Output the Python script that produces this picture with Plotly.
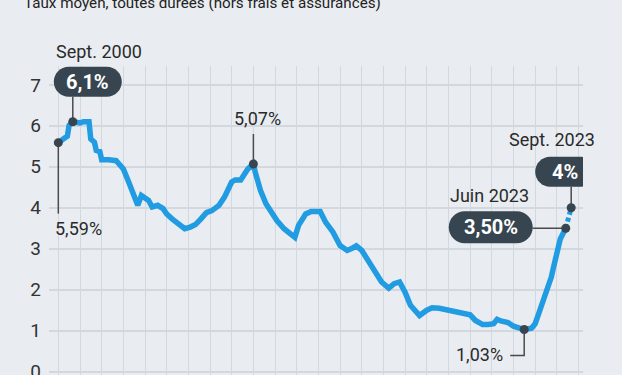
import plotly.graph_objects as go

# ---------------- data ----------------
months = [
    "2000-01", "2000-04", "2000-06", "2000-07", "2000-09", "2001-01", "2001-03", "2001-06",
    "2001-07", "2001-09", "2001-10", "2001-12", "2002-01", "2002-05", "2002-09", "2002-11",
    "2003-01", "2003-04", "2003-06", "2003-08", "2003-09", "2003-11", "2004-01", "2004-03",
    "2004-05", "2004-08", "2004-11", "2005-01", "2005-04", "2005-07", "2005-11", "2006-02",
    "2006-05", "2006-08", "2006-11", "2007-02", "2007-06", "2007-09", "2008-01", "2008-03",
    "2008-06", "2008-10", "2009-01", "2009-02", "2009-05", "2009-08", "2009-12", "2010-02",
    "2010-06", "2010-10", "2010-12", "2011-02", "2011-06", "2011-09", "2011-12", "2012-02",
    "2012-05", "2012-09", "2013-01", "2013-05", "2013-08", "2013-10", "2014-01", "2014-06",
    "2014-12", "2015-04", "2015-07", "2015-10", "2016-01", "2016-04", "2016-09", "2017-01",
    "2017-04", "2017-08", "2018-01", "2018-05", "2018-08", "2019-01", "2019-04", "2019-08",
    "2019-11", "2020-02", "2020-04", "2020-06", "2020-10", "2021-01", "2021-04", "2021-07",
    "2021-11", "2022-01", "2022-03", "2022-05", "2022-08", "2022-10", "2022-11", "2023-01",
    "2023-03", "2023-06",
]
rates = [
    5.59, 5.71, 5.75, 6.01, 6.10, 6.07, 6.10, 6.10,
    5.68, 5.60, 5.40, 5.37, 5.17, 5.17, 5.15, 5.05,
    4.95, 4.63, 4.38, 4.14, 4.06, 4.30, 4.22, 4.18,
    4.02, 4.06, 3.98, 3.85, 3.73, 3.63, 3.49, 3.53,
    3.59, 3.73, 3.88, 3.93, 4.06, 4.26, 4.63, 4.68,
    4.68, 4.95, 5.07, 4.87, 4.42, 4.10, 3.81, 3.69,
    3.49, 3.32, 3.28, 3.57, 3.85, 3.91, 3.90, 3.91,
    3.65, 3.41, 3.08, 2.96, 3.02, 3.07, 2.96, 2.59,
    2.19, 2.04, 2.15, 2.19, 1.94, 1.62, 1.37, 1.50,
    1.56, 1.55, 1.51, 1.47, 1.46, 1.39, 1.25, 1.15,
    1.15, 1.17, 1.28, 1.24, 1.20, 1.11, 1.07, 1.03,
    1.06, 1.17, 1.41, 1.66, 2.02, 2.31, 2.51, 2.92,
    3.24, 3.50,
]
proj_months = ["2023-06", "2023-09"]
proj_rates = [3.50, 4.00]

y_ticks = [0, 1, 2, 3, 4, 5, 6, 7]
title_text = "Taux moyen, toutes durées (hors frais et assurances)"

# highlighted points: (month, rate)
hl_months = ["2000-01", "2000-09", "2009-01", "2021-07", "2023-06", "2023-09"]
hl_rates = [5.59, 6.10, 5.07, 1.03, 3.50, 4.00]

# ---------------- style ----------------
BG = "#e9edf1"
GRID = "#d3d8de"
BLUE = "#219be1"
DARK = "#36454f"
TXT = "#2a2a2a"
FONT = "Roboto"

def d(m):
    return m + "-01"

fig = go.Figure()
fig.add_trace(go.Scatter(x=[d(m) for m in months], y=rates, mode="lines",
                         line=dict(color=BLUE, width=5.5), hoverinfo="skip"))
fig.add_trace(go.Scatter(x=[d(m) for m in proj_months], y=proj_rates, mode="lines",
                         line=dict(color=BLUE, width=5, dash="4px,3px"), hoverinfo="skip"))
fig.add_trace(go.Scatter(x=[d(m) for m in hl_months], y=hl_rates, mode="markers",
                         marker=dict(color=DARK, size=9), cliponaxis=False, hoverinfo="skip"))


def pill(cx, cy, w, h):
    r = h / 2.0
    k = 0.5523 * r
    x0, x1 = cx - w / 2.0, cx + w / 2.0
    y0, y1 = cy - h / 2.0, cy + h / 2.0
    return (f"M {x0+r},{y0} L {x1-r},{y0} "
            f"C {x1-r+k},{y0} {x1},{y0+r-k} {x1},{y0+r} "
            f"C {x1},{y1-r+k} {x1-r+k},{y1} {x1-r},{y1} "
            f"L {x0+r},{y1} "
            f"C {x0+r-k},{y1} {x0},{y1-r+k} {x0},{y1-r} "
            f"C {x0},{y0+r-k} {x0+r-k},{y0} {x0+r},{y0} Z")

shapes = []
annotations = []

def anchor_path(i, path, fill=None, layer="above"):
    s = dict(type="path", xref="x", yref="y", xsizemode="pixel", ysizemode="pixel",
             xanchor=d(hl_months[i]), yanchor=hl_rates[i], path=path, layer=layer)
    if fill:
        s.update(fillcolor=fill, line=dict(width=0))
    else:
        s.update(line=dict(color="#4a4a4a", width=1.5))
    shapes.append(s)

def text_at(i, txt, dx, dy, size=18, color=TXT, bold=False):
    annotations.append(dict(
        x=d(hl_months[i]), y=hl_rates[i], xref="x", yref="y", showarrow=False,
        text=f"<b>{txt}</b>" if bold else txt, xshift=dx, yshift=dy,
        xanchor="center", yanchor="middle",
        font=dict(family=FONT, size=size, color=color)))

# 5,59% (start)
anchor_path(0, "M 0,0 L 0,-71", layer="between")
text_at(0, "5,59%", 20, -86)
# Sept. 2000 6,1%
anchor_path(1, "M 0,0 L 0,25", layer="between")
anchor_path(1, pill(15, 40, 68, 30), fill=DARK)
text_at(1, "6,1%", 15, 40, size=20, color="white", bold=True)
text_at(1, "Sept. 2000", 26, 70)
# 5,07%
anchor_path(2, "M 0,0 L 0,30", layer="between")
text_at(2, "5,07%", 4, 45)
# 1,03%
anchor_path(3, "M 0,0 L 0,-26 L -14,-26", layer="between")
text_at(3, "1,03%", -45, -25)
# Juin 2023 3,50%
anchor_path(4, "M 0,0 L -33,0", layer="between")
anchor_path(4, pill(-75, 1, 84, 32), fill=DARK)
text_at(4, "3,50%", -75, 1, size=20, color="white", bold=True)
text_at(4, "Juin 2023", -76, 33)
# Sept. 2023 4%
anchor_path(5, "M 0,0 L 0,21", layer="between")
anchor_path(5, pill(-6, 36, 60, 30), fill=DARK)
text_at(5, "4%", -6, 36, size=20, color="white", bold=True)
text_at(5, "Sept. 2023", -19, 68)

# cut-off subtitle at top (as in the reference, only its lower part is in frame)
annotations.append(dict(x=0, y=1, xref="paper", yref="paper", xanchor="left", yanchor="middle",
                        xshift=-27, yshift=63, showarrow=False, text=title_text,
                        font=dict(family=FONT, size=15.2, color="#222")))

fig.update_layout(
    template="none",
    width=622, height=375,
    margin=dict(l=49, r=39, t=66, b=0, autoexpand=False),
    paper_bgcolor=BG, plot_bgcolor=BG,
    showlegend=False,
    shapes=shapes, annotations=annotations,
    xaxis=dict(type="date", range=["1999-07-28", "2024-03-18"],
               tick0="2000-01-01", dtick="M12", showticklabels=False,
               showgrid=True, gridcolor=GRID, gridwidth=1.2,
               zeroline=False, showline=False, ticks="", automargin=False),
    yaxis=dict(range=[-0.08, 7.46], tickvals=y_ticks, ticktext=[str(v) for v in y_ticks],
               showgrid=True, gridcolor=GRID, gridwidth=2,
               zeroline=False, showline=False, ticks="", automargin=False,
               ticklabelstandoff=7, ticklabeloverflow="allow",
               tickfont=dict(family=FONT, size=19, color="#333")),
)

fig.write_html("out.html")
